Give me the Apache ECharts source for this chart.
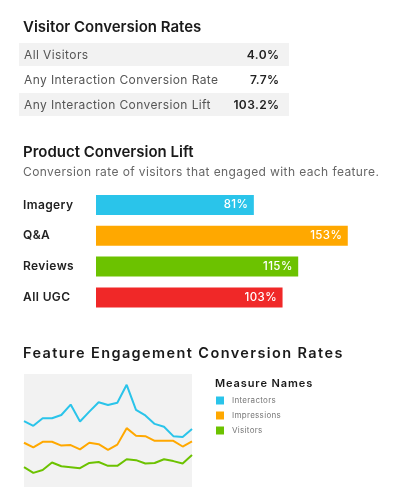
<!DOCTYPE html>
<html>
<head>
<meta charset="utf-8">
<script src="https://cdn.jsdelivr.net/npm/echarts@6/dist/echarts.min.js"></script>
<style>
html,body{margin:0;padding:0;background:#fff;}
#chart{width:393px;height:500px;}
</style>
</head>
<body>
<div id="chart"></div>
<script>
// ---- Data ----
const tableLabels = ['All Visitors', 'Any Interaction Conversion Rate', 'Any Interaction Conversion Lift'];
const tableValues = ['4.0%', '7.7%', '103.2%'];

const liftCategories = ['Imagery', 'Q&A', 'Reviews', 'All UGC'];
const liftValues = [81, 153, 115, 103];

const periods = ['1','2','3','4','5','6','7','8','9','10','11','12','13','14','15','16','17','18','19'];
const interactors = [7.0, 6.5, 7.3, 7.3, 7.65, 8.75, 6.95, 8.0, 9.0, 8.7, 8.95, 10.85, 8.2, 7.6, 6.7, 6.4, 5.4, 5.3, 6.15];
const impressions = [4.7, 4.2, 4.8, 4.8, 4.4, 4.45, 4.0, 4.7, 4.55, 3.95, 4.5, 6.25, 5.45, 5.4, 4.9, 4.9, 4.9, 4.3, 4.85];
const visitors = [2.1, 1.5, 1.8, 2.6, 2.2, 2.1, 2.0, 2.55, 2.65, 2.25, 2.25, 2.95, 2.85, 2.5, 2.55, 2.95, 2.75, 2.5, 3.4];

// ---- Letter spacing support for canvas text (font family marker lsNN = NN/10 px) ----
(function () {
  const proto = CanvasRenderingContext2D.prototype;
  const orig = proto.fillText;
  proto.fillText = function (t, x, y, w) {
    const m = /\bls(\d+)\b/.exec(this.font || '');
    if (m && 'letterSpacing' in this) {
      const prev = this.letterSpacing;
      this.letterSpacing = (parseInt(m[1], 10) / 10) + 'px';
      const r = (w === undefined) ? orig.call(this, t, x, y) : orig.call(this, t, x, y, w);
      this.letterSpacing = prev;
      return r;
    }
    return (w === undefined) ? orig.call(this, t, x, y) : orig.call(this, t, x, y, w);
  };
})();

// ---- Styles ----
const BASE = 'Inter, "Noto Sans", sans-serif';
function fam(ls) { return ls ? ('ls' + ls + ', ' + BASE) : BASE; }
const barColors = ['#2ac4ea', '#ffa800', '#6cc200', '#f02828'];
const lineColors = ['#2ac4ea', '#ffa800', '#6cc200'];
const X_MIN = -40;

const chart = echarts.init(document.getElementById('chart'));

function txt(str, x, y, size, weight, color, ls, align) {
  return {type:'text', x:x, y:y, silent:true,
    style:{text:str, fill:color, font: weight + ' ' + size + 'px ' + fam(ls), align: align || 'left', verticalAlign:'middle'}};
}

const graphics = [];
graphics.push(txt('Visitor Conversion Rates', 23, 27, 15, 600, '#1a1a1a', 0));
graphics.push(txt('Product Conversion Lift', 23, 152.5, 15, 600, '#1a1a1a', 0));
graphics.push(txt('Conversion rate of visitors that engaged with each feature.', 23, 172, 12, 400, '#666', 4));
graphics.push(txt('Feature Engagement Conversion Rates', 23, 353.5, 14.5, 600, '#1a1a1a', 14));
graphics.push(txt('Measure Names', 215, 384, 11, 600, '#1a1a1a', 9));

tableLabels.forEach((lab, i) => {
  const top = 43 + i * 25;
  if (i % 2 === 0) {
    graphics.push({type:'rect', x:19, y:top, shape:{x:0, y:0, width:270, height:23}, style:{fill:'#f2f2f2'}, silent:true, z:-1});
  }
  graphics.push(txt(lab, 24, top + 12, 12, 400, '#555', 4));
  graphics.push(txt(tableValues[i], 279.5, top + 12, 12, 600, '#222', 0, 'right'));
});

const option = {
  animation: false,
  textStyle: {fontFamily: BASE},
  graphic: graphics,
  grid: [
    {left:96, top:189.6, width:287, height:123.2},
    {left:24, top:374, width:168, height:113, show:true, backgroundColor:'#f2f2f2', borderWidth:0}
  ],
  xAxis: [
    {gridIndex:0, type:'value', min:X_MIN, max:180, show:false},
    {gridIndex:1, type:'category', data:periods, boundaryGap:false, show:false}
  ],
  yAxis: [
    {gridIndex:0, type:'category', data:liftCategories, inverse:true,
     axisLine:{show:false}, axisTick:{show:false},
     axisLabel:{align:'left', margin:73, fontSize:12, fontWeight:600, color:'#222', fontFamily:fam(4)}},
    {gridIndex:1, type:'value', min:0, max:12, show:false}
  ],
  legend: {
    left:216, top:396.5, orient:'vertical', padding:0, itemWidth:8, itemHeight:8, itemGap:7,
    icon:'rect', data:['Interactors','Impressions','Visitors'],
    textStyle:{fontSize:8, color:'#777', fontFamily:fam(3), padding:[0,0,0,3]}
  },
  series: [
    {
      type:'custom', xAxisIndex:0, yAxisIndex:0,
      data: liftValues.map((v, i) => [i, v]),
      encode: {x:1, y:0},
      renderItem: function (params, api) {
        const cat = api.value(0);
        const v = api.value(1);
        const s = api.coord([X_MIN, cat]);
        const e = api.coord([v, cat]);
        const h = 20;
        return {
          type:'group',
          children:[
            {type:'rect', shape:{x:s[0], y:s[1]-h/2, width:e[0]-s[0], height:h}, style:{fill:barColors[params.dataIndex]}},
            {type:'text', x:e[0]-5.5, y:e[1], style:{text:v + '%', fill:'#fff', font:'500 11.5px ' + BASE, align:'right', verticalAlign:'middle'}}
          ]
        };
      }
    },
    {name:'Interactors', type:'line', xAxisIndex:1, yAxisIndex:1, data:interactors, showSymbol:false, lineStyle:{width:2, color:lineColors[0]}, itemStyle:{color:lineColors[0]}},
    {name:'Impressions', type:'line', xAxisIndex:1, yAxisIndex:1, data:impressions, showSymbol:false, lineStyle:{width:2, color:lineColors[1]}, itemStyle:{color:lineColors[1]}},
    {name:'Visitors', type:'line', xAxisIndex:1, yAxisIndex:1, data:visitors, showSymbol:false, lineStyle:{width:2, color:lineColors[2]}, itemStyle:{color:lineColors[2]}}
  ]
};
chart.setOption(option);
</script>
</body>
</html>
